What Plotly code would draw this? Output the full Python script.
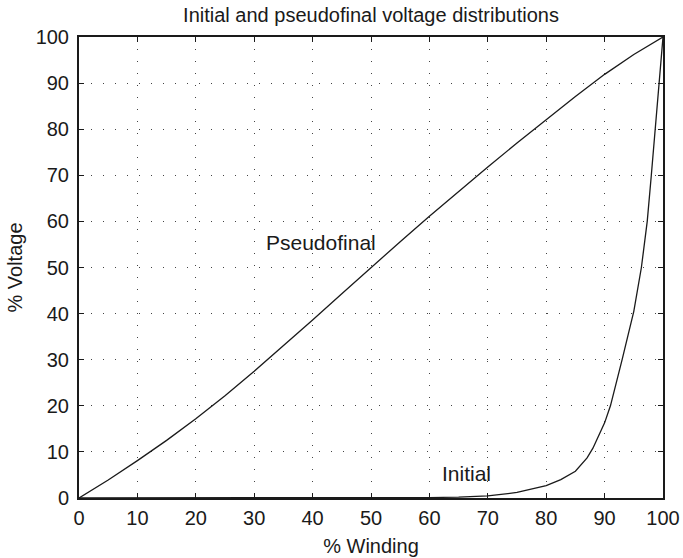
import plotly.graph_objects as go

# ---- data ----
winding_pseudo = [0, 5, 10, 15, 20, 25, 30, 35, 40, 45, 50, 55, 60, 65, 70, 75, 80, 85, 90, 95, 100]
voltage_pseudo = [0, 3.9, 8.1, 12.5, 17.2, 22.2, 27.5, 33.0, 38.6, 44.3, 50.0, 55.6, 61.1, 66.5,
                  71.8, 77.0, 82.1, 87.1, 91.9, 96.2, 100]

winding_initial = [0, 10, 20, 30, 40, 50, 55, 60, 65, 70, 75, 80, 82.5, 85, 87, 88, 90, 91, 93,
                   95, 96.3, 97.3, 98, 98.7, 99.3, 100]
voltage_initial = [0, 0, 0, 0, 0, 0.02, 0.05, 0.1, 0.2, 0.45, 1.2, 2.7, 4.0, 5.8, 8.7, 10.8, 16.3,
                   20, 30, 40.5, 50, 60, 70, 80, 90, 100]

x_ticks = [0, 10, 20, 30, 40, 50, 60, 70, 80, 90, 100]
y_ticks = [0, 10, 20, 30, 40, 50, 60, 70, 80, 90, 100]

title_text = "Initial and pseudofinal voltage distributions"
x_title = "% Winding"
y_title = "% Voltage"
labels = [("Pseudofinal", 31.7, 55.4), ("Initial", 61.8, 5.4)]

FONT = "Liberation Sans, Arial, Helvetica, sans-serif"
INK = "#1a1a1a"

fig = go.Figure()
fig.add_trace(go.Scatter(x=winding_pseudo, y=voltage_pseudo, mode="lines",
                         line=dict(color=INK, width=1.3), showlegend=False, hoverinfo="skip"))
fig.add_trace(go.Scatter(x=winding_initial, y=voltage_initial, mode="lines",
                         line=dict(color=INK, width=1.3), showlegend=False, hoverinfo="skip"))

for txt, xx, yy in labels:
    fig.add_annotation(x=xx, y=yy, text=txt, showarrow=False, xanchor="left", yanchor="middle",
                       font=dict(family=FONT, size=21, color=INK))

axis_common = dict(
    showline=True, linecolor=INK, linewidth=2, mirror="ticks",
    ticks="inside", ticklen=5, tickwidth=1, tickcolor=INK,
    showgrid=True, gridcolor="#444444", gridwidth=1, griddash="1px,11px",
    zeroline=False,
    tickfont=dict(family=FONT, size=20, color=INK),
)

fig.update_xaxes(range=[0, 100], tickvals=x_ticks, ticktext=[str(v) for v in x_ticks],
                 title=dict(text=x_title, font=dict(family=FONT, size=20, color=INK), standoff=11),
                 ticklabelstandoff=1, **axis_common)
fig.update_yaxes(range=[0, 100], tickvals=y_ticks, ticktext=[str(v) for v in y_ticks],
                 title=dict(text=y_title, font=dict(family=FONT, size=20, color=INK), standoff=8),
                 ticklabelstandoff=4, **axis_common)

W, H = 683, 558
fig.update_layout(
    width=W, height=H,
    margin=dict(l=79, r=20, t=37, b=60, autoexpand=False),
    paper_bgcolor="white", plot_bgcolor="white",
    hovermode=False,
    title=dict(text=title_text, x=371 / W, xanchor="center", xref="container",
               y=1 - 15 / H, yref="container", yanchor="middle",
               font=dict(family=FONT, size=20, color=INK)),
)

# remove the browser's default 8px body margin so the figure fills the window exactly
fig.write_html("out.html",
               config={"displayModeBar": False, "staticPlot": True},
               post_script="document.body.style.margin='0';document.body.style.overflow='hidden';")
